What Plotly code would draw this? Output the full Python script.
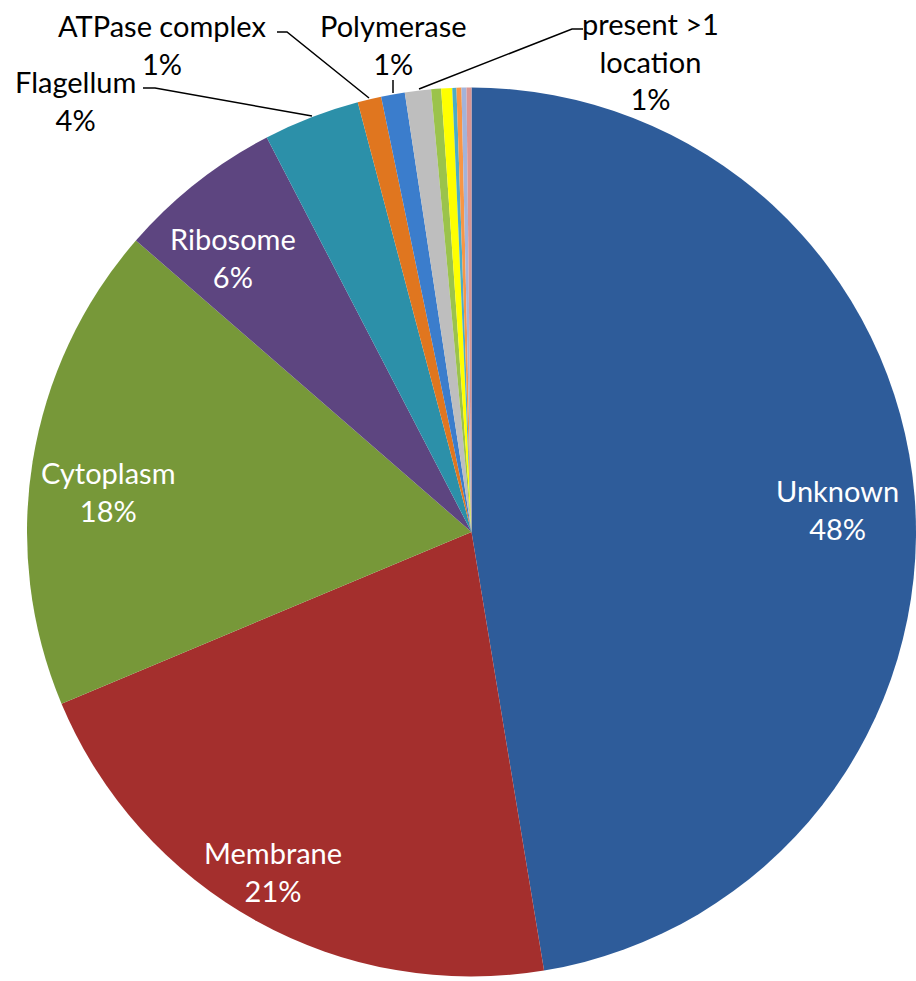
import plotly.graph_objects as go

# ---- data ----
categories = ["Unknown", "Membrane", "Cytoplasm", "Ribosome", "Flagellum",
              "ATPase complex", "Polymerase", "present >1 location",
              "Other 1", "Other 2", "Other 3", "Other 4", "Other 5", "Other 6"]
values = [47.4, 21.3, 17.7, 6.0, 3.5, 0.86, 0.86, 0.95, 0.36, 0.40, 0.15, 0.18, 0.18, 0.18]
shown_pct = ["48%", "21%", "18%", "6%", "4%", "1%", "1%", "1%", "", "", "", "", "", ""]
label_lines = ["Unknown", "Membrane", "Cytoplasm", "Ribosome", "Flagellum",
               "ATPase complex", "Polymerase", "present >1<br>location",
               "", "", "", "", "", ""]
colors = ["#2E5C9A", "#A42F2D", "#779839", "#5D4580", "#2C90A9", "#E0761F",
          "#3B7DCC", "#BEBEBE", "#9BC34B", "#FFFF00", "#4BACC6", "#F79646",
          "#A3B3DA", "#D99694"]

W, H = 916, 981

def px(x, y):
    return x / W, 1 - y / H

fig = go.Figure()
fig.add_trace(go.Pie(
    labels=categories, values=values, sort=False, direction="clockwise",
    rotation=0, textinfo="none", hoverinfo="label+percent",
    marker=dict(colors=colors, line=dict(width=0)),
    domain=dict(x=[27 / W, 1.0], y=[(H - 976.5) / H, (H - 87.5) / H]),
    showlegend=False,
))

FONT = "Lato, Carlito, Calibri, sans-serif"
FS = 29

# label positions (pixel centres) for each labelled slice
inside_pos = {0: (837, 510), 1: (273, 871), 2: (108, 491), 3: (233, 257)}
outside_pos = {4: (75, 100), 5: (162, 44), 6: (393, 44), 7: (650, 61)}

annotations = []
for i, (cx, cy) in inside_pos.items():
    x, y = px(cx, cy)
    annotations.append(dict(x=x, y=y, xref="paper", yref="paper", showarrow=False,
                            xanchor="center", yanchor="middle",
                            text=f"{label_lines[i]}<br>{shown_pct[i]}",
                            font=dict(family=FONT, size=FS, color="white"),
                            align="center"))
for i, (cx, cy) in outside_pos.items():
    x, y = px(cx, cy)
    annotations.append(dict(x=x, y=y, xref="paper", yref="paper", showarrow=False,
                            xanchor="center", yanchor="middle",
                            text=f"{label_lines[i]}<br>{shown_pct[i]}",
                            font=dict(family=FONT, size=FS, color="black"),
                            align="center"))

# leader lines (pixel polylines)
leaders = [
    [(143, 88), (155, 88), (312, 116)],
    [(277, 32), (287, 32), (369, 98)],
    [(393, 80), (393, 93)],
    [(419, 89), (572, 29), (583, 29)],
]
shapes = []
for pts in leaders:
    path = ""
    for k, (a, b) in enumerate(pts):
        x, y = px(a, b)
        path += ("M" if k == 0 else "L") + f"{x},{y} "
    shapes.append(dict(type="path", path=path.strip(), xref="paper", yref="paper",
                       line=dict(color="black", width=1.5)))

fig.update_layout(width=W, height=H, margin=dict(l=0, r=0, t=0, b=0),
                  paper_bgcolor="white", plot_bgcolor="white",
                  annotations=annotations, shapes=shapes)

fig.write_html("out.html", config={"displayModeBar": False},
               post_script="document.body.style.margin='0';document.body.style.overflow='hidden';")
